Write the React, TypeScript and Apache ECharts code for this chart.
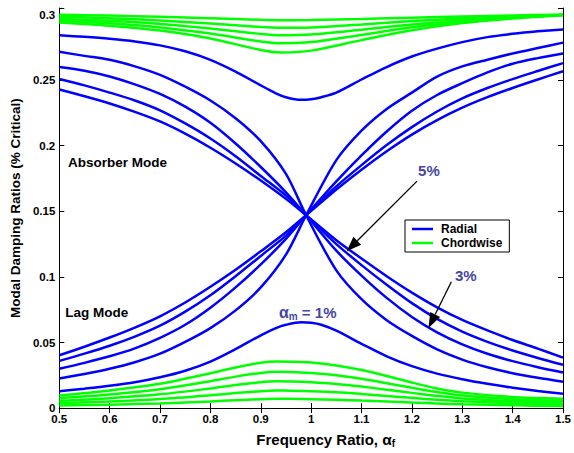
import React, { useEffect, useRef } from 'react';
import * as echarts from 'echarts';

// ---------- data ----------
const X_CROSS = [0.5, 0.55, 0.6, 0.65, 0.7, 0.75, 0.8, 0.85, 0.9, 0.95, 0.99, 1.05, 1.1, 1.15, 1.2, 1.25, 1.3, 1.35, 1.4, 1.45, 1.5];
// radial curves that rise (lag mode on the left, absorber mode on the right), alpha_m = 2..5 %
const RAD_RISE_2 = [0.0226, 0.026, 0.030, 0.035, 0.0415, 0.0505, 0.061, 0.0745, 0.092, 0.117, 0.147, 0.189, 0.2115, 0.228, 0.2405, 0.2527, 0.2605, 0.2656, 0.2703, 0.2745, 0.2786];
const RAD_RISE_3 = [0.030, 0.0345, 0.0395, 0.0455, 0.0535, 0.0635, 0.0765, 0.092, 0.1095, 0.129, 0.147, 0.1728, 0.1927, 0.2109, 0.2267, 0.2387, 0.2477, 0.2559, 0.2625, 0.2668, 0.2703];
const RAD_RISE_4 = [0.036, 0.0415, 0.0475, 0.0545, 0.0628, 0.0735, 0.086, 0.1005, 0.116, 0.1315, 0.147, 0.169, 0.1852, 0.2005, 0.2142, 0.2261, 0.2361, 0.244, 0.2508, 0.257, 0.263];
const RAD_RISE_5 = [0.0403, 0.0468, 0.0538, 0.0614, 0.070, 0.0805, 0.0925, 0.1055, 0.1195, 0.134, 0.147, 0.1666, 0.1817, 0.1958, 0.2085, 0.2195, 0.229, 0.237, 0.244, 0.2505, 0.2568];
// radial curves that fall (absorber mode on the left, lag mode on the right)
const RAD_FALL_2 = [0.2716, 0.2685, 0.2655, 0.2605, 0.254, 0.245, 0.2345, 0.221, 0.2035, 0.1785, 0.147, 0.105, 0.083, 0.067, 0.055, 0.0448, 0.037, 0.0311, 0.0266, 0.0231, 0.0201];
const RAD_FALL_3 = [0.260, 0.2572, 0.2528, 0.2468, 0.2395, 0.2298, 0.2175, 0.2017, 0.1838, 0.1645, 0.147, 0.120, 0.101, 0.084, 0.0695, 0.0578, 0.0486, 0.0414, 0.0358, 0.0312, 0.0272];
const RAD_FALL_4 = [0.2509, 0.246, 0.2405, 0.2345, 0.227, 0.217, 0.2055, 0.192, 0.177, 0.162, 0.147, 0.125, 0.109, 0.094, 0.080, 0.068, 0.0583, 0.0505, 0.0439, 0.0382, 0.033];
const RAD_FALL_5 = [0.2429, 0.2377, 0.2322, 0.2258, 0.2185, 0.2092, 0.1985, 0.1865, 0.1735, 0.1595, 0.147, 0.128, 0.114, 0.1005, 0.088, 0.0768, 0.0672, 0.0592, 0.0519, 0.0453, 0.0385];

// alpha_m = 1 % (veering pair)
const X_ONE = [0.5, 0.55, 0.6, 0.65, 0.7, 0.75, 0.8, 0.85, 0.9, 0.93, 0.95, 0.98, 1.0, 1.02, 1.05, 1.1, 1.15, 1.2, 1.25, 1.3, 1.35, 1.4, 1.45, 1.5];
const RAD_ABS_1 = [0.2842, 0.283, 0.2815, 0.2795, 0.2765, 0.272, 0.2655, 0.2565, 0.246, 0.240, 0.237, 0.235, 0.2355, 0.237, 0.2405, 0.2505, 0.260, 0.268, 0.274, 0.279, 0.2828, 0.2853, 0.2872, 0.2887];
const RAD_LAG_1 = [0.0128, 0.0148, 0.017, 0.0197, 0.0235, 0.0285, 0.0355, 0.045, 0.0555, 0.061, 0.0635, 0.0654, 0.065, 0.0635, 0.059, 0.049, 0.0395, 0.032, 0.0263, 0.022, 0.0185, 0.0155, 0.013, 0.0109];

// chordwise, upper bundle (absorber mode)
const X_CH_UP = [0.5, 0.6, 0.7, 0.8, 0.9, 0.94, 1.0, 1.1, 1.2, 1.3, 1.4, 1.5];
const CH_UP_1 = [0.2998, 0.2992, 0.2983, 0.2972, 0.296, 0.2957, 0.2958, 0.2966, 0.2976, 0.2985, 0.2993, 0.2999];
const CH_UP_2 = [0.2983, 0.2972, 0.2955, 0.2932, 0.2905, 0.2899, 0.2902, 0.2925, 0.295, 0.297, 0.2986, 0.2998];
const CH_UP_3 = [0.2968, 0.2952, 0.2928, 0.2893, 0.2852, 0.2842, 0.2848, 0.2885, 0.2925, 0.2957, 0.298, 0.2997];
const CH_UP_4 = [0.2953, 0.2933, 0.2902, 0.2855, 0.2795, 0.2781, 0.279, 0.2845, 0.2903, 0.2945, 0.2975, 0.2996];
const CH_UP_5 = [0.294, 0.2915, 0.2878, 0.2818, 0.273, 0.2711, 0.2725, 0.2805, 0.288, 0.2935, 0.297, 0.2995];

// chordwise, lower bundle (lag mode)
const X_CH_LO = [0.5, 0.6, 0.7, 0.8, 0.85, 0.9, 0.93, 0.96, 1.0, 1.05, 1.1, 1.15, 1.2, 1.25, 1.3, 1.4, 1.5];
const CH_LO_5 = [0.0096, 0.0135, 0.0185, 0.0265, 0.031, 0.0345, 0.0355, 0.0354, 0.0348, 0.0325, 0.029, 0.0245, 0.0195, 0.015, 0.0118, 0.0085, 0.0072];
const CH_LO_4 = [0.0075, 0.0103, 0.0143, 0.0205, 0.024, 0.0268, 0.0277, 0.0276, 0.0268, 0.025, 0.0223, 0.019, 0.0155, 0.0122, 0.0096, 0.0068, 0.0056];
const CH_LO_3 = [0.0056, 0.0076, 0.0105, 0.015, 0.0176, 0.0197, 0.0204, 0.0203, 0.0197, 0.0184, 0.0164, 0.014, 0.0116, 0.0093, 0.0074, 0.0052, 0.0042];
const CH_LO_2 = [0.0038, 0.005, 0.0069, 0.0098, 0.0115, 0.0129, 0.0134, 0.0133, 0.0129, 0.0121, 0.0108, 0.0093, 0.0078, 0.0063, 0.0052, 0.0037, 0.0028];
const CH_LO_1 = [0.002, 0.0026, 0.0036, 0.0051, 0.006, 0.0068, 0.0071, 0.0071, 0.0068, 0.0064, 0.0057, 0.005, 0.0042, 0.0035, 0.0029, 0.0021, 0.0016];

const LEGEND_NAMES = ['Radial', 'Chordwise'];
const X_MIN = 0.5, X_MAX = 1.5, X_STEP = 0.1;
const Y_MIN = 0, Y_MAX = 0.305, Y_STEP = 0.05;

// ---------- styles ----------
const BLUE = '#0000ff';
const GREEN = '#00ff00';
const NOTE = '#4646a4';
const FONT = '"Liberation Sans", Arial, Helvetica, sans-serif';

export default function App() {
  const ref = useRef<HTMLDivElement>(null);

  useEffect(() => {
    const chart = echarts.init(ref.current!, null, { renderer: 'svg' });

    const mk = (name: string, color: string, xs: number[], ys: number[]) => ({
      type: 'line',
      name,
      data: xs.map((x, i) => [x, ys[i]]),
      symbol: 'none',
      smooth: 0.3,
      silent: true,
      lineStyle: { color, width: 2.5 },
      itemStyle: { color },
      z: 3,
    });

    const series = [
      mk('Radial', BLUE, X_ONE, RAD_ABS_1),
      mk('Radial', BLUE, X_ONE, RAD_LAG_1),
      mk('Radial', BLUE, X_CROSS, RAD_RISE_2),
      mk('Radial', BLUE, X_CROSS, RAD_RISE_3),
      mk('Radial', BLUE, X_CROSS, RAD_RISE_4),
      mk('Radial', BLUE, X_CROSS, RAD_RISE_5),
      mk('Radial', BLUE, X_CROSS, RAD_FALL_2),
      mk('Radial', BLUE, X_CROSS, RAD_FALL_3),
      mk('Radial', BLUE, X_CROSS, RAD_FALL_4),
      mk('Radial', BLUE, X_CROSS, RAD_FALL_5),
      mk('Chordwise', GREEN, X_CH_UP, CH_UP_1),
      mk('Chordwise', GREEN, X_CH_UP, CH_UP_2),
      mk('Chordwise', GREEN, X_CH_UP, CH_UP_3),
      mk('Chordwise', GREEN, X_CH_UP, CH_UP_4),
      mk('Chordwise', GREEN, X_CH_UP, CH_UP_5),
      mk('Chordwise', GREEN, X_CH_LO, CH_LO_1),
      mk('Chordwise', GREEN, X_CH_LO, CH_LO_2),
      mk('Chordwise', GREEN, X_CH_LO, CH_LO_3),
      mk('Chordwise', GREEN, X_CH_LO, CH_LO_4),
      mk('Chordwise', GREEN, X_CH_LO, CH_LO_5),
    ];

    const numFmt = (v: number) => String(+v.toFixed(2));
    const yFmt = (v: number) => {
      const k = v / Y_STEP;
      return Math.abs(k - Math.round(k)) < 1e-6 ? numFmt(v) : '';
    };
    const tickLabel = { color: '#000', fontWeight: 'bold', fontSize: 11.5, fontFamily: FONT };
    const axisLine = { show: true, lineStyle: { color: '#000', width: 1 } };
    const axisTick = { show: true, inside: true, length: 5, lineStyle: { color: '#000', width: 1 } };

    chart.setOption({
      animation: false,
      backgroundColor: '#fff',
      grid: { left: 54, right: 7, top: 8, bottom: 40, containLabel: false },
      legend: {
        data: LEGEND_NAMES,
        orient: 'vertical',
        left: 405,
        top: 220,
        icon: 'rect',
        itemWidth: 21,
        itemHeight: 2.5,
        itemGap: 0,
        padding: [2, 7, 2, 7],
        backgroundColor: '#fff',
        borderColor: '#000',
        borderWidth: 1,
        selectedMode: false,
        textStyle: { color: '#000', fontWeight: 'bold', fontSize: 12, fontFamily: FONT, lineHeight: 14, padding: [0, 0, 0, 3] },
      },
      xAxis: [
        {
          type: 'value', min: X_MIN, max: X_MAX, interval: X_STEP, position: 'bottom',
          axisLine, axisTick, splitLine: { show: false },
          axisLabel: { ...tickLabel, margin: 6, lineHeight: 10, formatter: numFmt },
          name: 'Frequency Ratio, {g|α}{s|f}',
          nameLocation: 'middle',
          nameGap: 15,
          nameTextStyle: {
            color: '#000', fontWeight: 'bold', fontSize: 15, fontFamily: FONT, lineHeight: 18,
            padding: [0, 0, 0, 29],
            rich: {
              g: { color: '#000', fontSize: 15.5, fontFamily: FONT, lineHeight: 18 },
              s: { color: '#000', fontSize: 10, fontWeight: 'bold', fontFamily: FONT, lineHeight: 10, verticalAlign: 'bottom' },
            },
          },
        },
        {
          type: 'value', min: X_MIN, max: X_MAX, interval: X_STEP, position: 'top',
          axisLine, axisTick, splitLine: { show: false }, axisLabel: { show: false },
        },
      ],
      yAxis: [
        {
          type: 'value', min: Y_MIN, max: Y_MAX, interval: Y_STEP, position: 'left',
          axisLine, axisTick, splitLine: { show: false },
          axisLabel: { ...tickLabel, margin: 4, lineHeight: 11, formatter: yFmt },
          name: 'Modal Damping Ratios (% Critical)',
          nameLocation: 'middle',
          nameGap: 31,
          nameRotate: 90,
          nameTextStyle: { color: '#000', fontWeight: 'bold', fontSize: 13.5, fontFamily: FONT },
        },
        {
          type: 'value', min: Y_MIN, max: Y_MAX, interval: Y_STEP, position: 'right',
          axisLine, axisTick, splitLine: { show: false }, axisLabel: { show: false },
        },
      ],
      series,
    });

    // ---------- annotations, placed through the axes ----------
    const px = (x: number, y: number) => chart.convertToPixel({ xAxisIndex: 0, yAxisIndex: 0 }, [x, y]) as number[];

    const text = (s: string, x: number, y: number, align: string, color: string, size: number, rich?: any) => {
      const p = px(x, y);
      return {
        type: 'text', x: p[0], y: p[1], silent: true, z: 10,
        style: {
          text: s, fill: color, fontWeight: 'bold', fontSize: size, fontFamily: FONT,
          align, verticalAlign: 'middle', textAlign: align, textVerticalAlign: 'middle',
          rich,
        },
      };
    };

    const arrow = (x0: number, y0: number, x1: number, y1: number) => {
      const a = px(x0, y0), b = px(x1, y1);
      const dx = b[0] - a[0], dy = b[1] - a[1];
      const len = Math.hypot(dx, dy);
      const ux = dx / len, uy = dy / len;
      const L = 15, W = 11;
      const bx = b[0] - ux * L, by = b[1] - uy * L;
      const nx = -uy, ny = ux;
      return [
        { type: 'line', silent: true, z: 10, shape: { x1: a[0], y1: a[1], x2: bx, y2: by }, style: { stroke: '#000', lineWidth: 1.3 } },
        {
          type: 'polygon', silent: true, z: 10,
          shape: { points: [[b[0], b[1]], [bx + nx * W / 2, by + ny * W / 2], [bx - nx * W / 2, by - ny * W / 2]] },
          style: { fill: '#000' },
        },
      ];
    };

    const richAlpha = {
      a: { fill: NOTE, color: NOTE, fontSize: 16, fontWeight: 'bold', fontFamily: FONT, lineHeight: 18 },
      m: { fill: NOTE, color: NOTE, fontSize: 10, fontWeight: 'bold', fontFamily: FONT, lineHeight: 10, verticalAlign: 'bottom' },
      t: { fill: NOTE, color: NOTE, fontSize: 15, fontWeight: 'bold', fontFamily: FONT, lineHeight: 18 },
    };

    chart.setOption({
      graphic: [
        text('Absorber Mode', 0.5175, 0.187, 'left', '#000', 13.5),
        text('Lag Mode', 0.5117, 0.073, 'left', '#000', 13.5),
        text('5%', 1.2339, 0.1808, 'center', NOTE, 15),
        text('3%', 1.307, 0.1009, 'center', NOTE, 15),
        text('{a|α}{m|m}{t| = 1%}', 0.9932, 0.0725, 'center', NOTE, 15, richAlpha),
        ...arrow(1.2102, 0.173, 1.0705, 0.1195),
        ...arrow(1.2784, 0.0963, 1.2329, 0.0611),
      ],
    });

    return () => chart.dispose();
  }, []);

  return (
    <div
      ref={ref}
      style={{ position: 'fixed', left: 0, top: 0, width: 574, height: 453, background: '#fff' }}
    />
  );
}
